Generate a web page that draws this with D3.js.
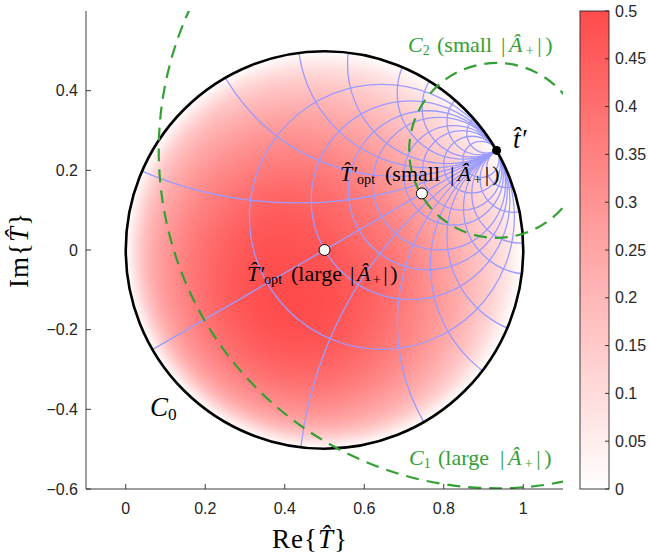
<!DOCTYPE html>
<html><head><meta charset="utf-8">
<script src="https://cdn.jsdelivr.net/npm/d3@7"></script>
<style>body{margin:0;background:#fff}</style>
</head><body>
<svg id="chart" width="650" height="556" xmlns="http://www.w3.org/2000/svg"></svg>
<script>
// ---------- data ----------
// heat values sampled on polar rays from the centre of C0 (angle in degrees, radius as fraction of C0 radius)
const heatAngles = [0, 30, 60, 90, 120, 150, 180, 210, 240, 270, 300, 330];
const heatRadii  = [0, 0.3, 0.55, 0.75, 0.9, 1];
const heatValues = [
  [0.47, 0.39, 0.28, 0.18, 0.09, 0],
  [0.47, 0.37, 0.25, 0.15, 0.075, 0],
  [0.47, 0.38, 0.27, 0.17, 0.085, 0],
  [0.47, 0.40, 0.30, 0.20, 0.10, 0],
  [0.47, 0.43, 0.34, 0.24, 0.13, 0],
  [0.47, 0.46, 0.38, 0.28, 0.16, 0],
  [0.47, 0.48, 0.42, 0.32, 0.19, 0],
  [0.47, 0.495, 0.45, 0.35, 0.21, 0],
  [0.47, 0.50, 0.46, 0.36, 0.215, 0],
  [0.47, 0.49, 0.44, 0.34, 0.20, 0],
  [0.47, 0.46, 0.39, 0.29, 0.165, 0],
  [0.47, 0.43, 0.33, 0.23, 0.12, 0]
];
const colorTicks = [0, 0.05, 0.1, 0.15, 0.2, 0.25, 0.3, 0.35, 0.4, 0.45, 0.5];
const xTicks = [0, 0.2, 0.4, 0.6, 0.8, 1];
const yTicks = [-0.6, -0.4, -0.2, 0, 0.2, 0.4];
const xDomain = [-0.1, 1.1];
const yDomain = [-0.6, 0.6];
const c0Center = [0.5, 0];
const c0Radius = 0.5;
const tPrime = [0.933, 0.25];
const resistances = [0.5, 1, 1.5, 2, 3, 4, 6, 10];
const reactances = [0.5, 1, 1.5, 2, 3, 4, 6, 10, -0.5, -1, -1.5, -2, -3, -4, -6, -10];
const c1Radius = 0.85;
const c2Radius = 0.22;
const toptLarge = [0.5, 0];
const toptSmall = [0.745, 0.142];

// ---------- layout ----------
const svg = d3.select("#chart");
const L = 86, R = 563, T = 11, B = 489;
const x = d3.scaleLinear().domain(xDomain).range([L, R]);
const y = d3.scaleLinear().domain(yDomain).range([B, T]);
const unit = x(1) - x(0);
const color = d3.scaleLinear().domain([0, 0.5]).range(["#ffffff", "#ff4b4b"]).interpolate(d3.interpolateRgb);
const axisCol = "#262626";
const serif = "'Liberation Serif', 'DejaVu Serif', serif";
const sans = "'Liberation Sans', Arial, sans-serif";
const green = "#33a033";
const blue = "#9b9bff";
const tickFont = 16;

const defs = svg.append("defs");
defs.append("clipPath").attr("id", "clipC0").append("circle")
  .attr("cx", x(c0Center[0])).attr("cy", y(c0Center[1])).attr("r", c0Radius * unit);
defs.append("clipPath").attr("id", "clipAx").append("rect")
  .attr("x", L).attr("y", T).attr("width", R - L).attr("height", B - T);

// ---------- heatmap (smooth interpolation of the polar samples) ----------
function hermiteRadial(vals, r) {
  const k = heatRadii, n = k.length;
  let i = 0;
  while (i < n - 2 && r > k[i + 1]) i++;
  const h = k[i + 1] - k[i], t = Math.max(0, Math.min(1, (r - k[i]) / h));
  const slope = j => {
    if (j === 0) return (vals[1] - vals[0]) / (k[1] - k[0]);
    if (j === n - 1) return (vals[n - 1] - vals[n - 2]) / (k[n - 1] - k[n - 2]);
    return 0.5 * ((vals[j + 1] - vals[j]) / (k[j + 1] - k[j]) + (vals[j] - vals[j - 1]) / (k[j] - k[j - 1]));
  };
  const m0 = slope(i) * h, m1 = slope(i + 1) * h;
  const t2 = t * t, t3 = t2 * t;
  return (2 * t3 - 3 * t2 + 1) * vals[i] + (t3 - 2 * t2 + t) * m0 + (-2 * t3 + 3 * t2) * vals[i + 1] + (t3 - t2) * m1;
}
function cr(p0, p1, p2, p3, t) {
  return p1 + 0.5 * t * (p2 - p0 + t * (2 * p0 - 5 * p1 + 4 * p2 - p3 + t * (3 * (p1 - p2) + p3 - p0)));
}
function sample(xv, yv) {
  const dx = (xv - c0Center[0]) / c0Radius, dy = (yv - c0Center[1]) / c0Radius;
  const r = Math.min(1, Math.hypot(dx, dy));
  let a = Math.atan2(dy, dx) * 180 / Math.PI; if (a < 0) a += 360;
  const n = heatAngles.length, step = 360 / n;
  const fa = a / step, i = Math.floor(fa) % n, t = fa - Math.floor(fa);
  const row = j => hermiteRadial(heatValues[(j + n) % n], r);
  return cr(row(i - 1), row(i), row(i + 1), row(i + 2), t);
}
const W = R - L, H = B - T;
const cv = document.createElement("canvas");
cv.width = W; cv.height = H;
const ctx = cv.getContext("2d");
const img = ctx.createImageData(W, H);
for (let py = 0; py < H; py++) {
  for (let px = 0; px < W; px++) {
    const xv = x.invert(L + px + 0.5), yv = y.invert(T + py + 0.5);
    const dx = xv - c0Center[0], dy = yv - c0Center[1];
    const k = (py * W + px) * 4;
    if (dx * dx + dy * dy <= (c0Radius + 0.01) ** 2) {
      let v = Math.max(0, Math.min(0.5, sample(xv, yv)));
      const c = d3.rgb(color(v));
      img.data[k] = c.r; img.data[k + 1] = c.g; img.data[k + 2] = c.b; img.data[k + 3] = 255;
    }
  }
}
ctx.putImageData(img, 0, 0);
svg.append("image").attr("x", L).attr("y", T).attr("width", W).attr("height", H)
  .attr("href", cv.toDataURL()).attr("clip-path", "url(#clipC0)");

// ---------- Smith-type grid ----------
const theta = Math.atan2(tPrime[1] - c0Center[1], tPrime[0] - c0Center[0]);
const ct = Math.cos(theta), st = Math.sin(theta);
function mapG(gr, gi) {
  return [c0Center[0] + c0Radius * (gr * ct - gi * st), c0Center[1] + c0Radius * (gr * st + gi * ct)];
}
const grid = svg.append("g").attr("clip-path", "url(#clipC0)")
  .attr("fill", "none").attr("stroke", blue).attr("stroke-width", 1.3);
resistances.forEach(r => {
  const c = mapG(r / (1 + r), 0);
  grid.append("circle").attr("cx", x(c[0])).attr("cy", y(c[1])).attr("r", c0Radius / (1 + r) * unit);
});
reactances.forEach(xr => {
  const c = mapG(1, 1 / xr);
  grid.append("circle").attr("cx", x(c[0])).attr("cy", y(c[1])).attr("r", c0Radius / Math.abs(xr) * unit);
});
{
  const a = mapG(1, 0), b = mapG(-1, 0);
  grid.append("line").attr("x1", x(a[0])).attr("y1", y(a[1])).attr("x2", x(b[0])).attr("y2", y(b[1]));
}

// ---------- C0 ----------
svg.append("circle").attr("cx", x(c0Center[0])).attr("cy", y(c0Center[1])).attr("r", c0Radius * unit)
  .attr("fill", "none").attr("stroke", "#000").attr("stroke-width", 2.6);

// ---------- C1, C2 ----------
const gc = svg.append("g").attr("clip-path", "url(#clipAx)");
[c1Radius, c2Radius].forEach(rr => {
  gc.append("circle").attr("cx", x(tPrime[0])).attr("cy", y(tPrime[1])).attr("r", rr * unit)
    .attr("fill", "none").attr("stroke", green).attr("stroke-width", 2.2).attr("stroke-dasharray", "13,8");
});

// ---------- markers ----------
[toptLarge, toptSmall].forEach(p => {
  svg.append("circle").attr("cx", x(p[0])).attr("cy", y(p[1])).attr("r", 5.5)
    .attr("fill", "#fff").attr("stroke", "#000").attr("stroke-width", 1);
});
svg.append("circle").attr("cx", x(tPrime[0])).attr("cy", y(tPrime[1])).attr("r", 4.5).attr("fill", "#000");

// ---------- axes ----------
const ax = svg.append("g").attr("stroke", axisCol).attr("stroke-width", 0.9);
ax.append("line").attr("x1", L).attr("x2", L).attr("y1", T).attr("y2", B);
ax.append("line").attr("x1", L).attr("x2", R).attr("y1", B).attr("y2", B);
xTicks.forEach(t => ax.append("line").attr("x1", x(t)).attr("x2", x(t)).attr("y1", B).attr("y2", B - 5));
yTicks.forEach(t => ax.append("line").attr("x1", L).attr("x2", L + 5).attr("y1", y(t)).attr("y2", y(t)));
const fmt = v => (v < 0 ? "\u2212" : "") + String(+Math.abs(v).toFixed(2));
svg.append("g").selectAll("text").data(xTicks).join("text")
  .attr("x", d => x(d)).attr("y", 514).attr("text-anchor", "middle")
  .attr("font-family", sans).attr("font-size", tickFont).attr("fill", axisCol).text(fmt);
svg.append("g").selectAll("text").data(yTicks).join("text")
  .attr("x", 78).attr("y", d => y(d) + 5.5).attr("text-anchor", "end")
  .attr("font-family", sans).attr("font-size", tickFont).attr("fill", axisCol).text(fmt);

// ---------- colorbar ----------
const cbL = 580, cbR = 609;
const cy = d3.scaleLinear().domain([0, 0.5]).range([B, T]);
const grad = defs.append("linearGradient").attr("id", "cbg").attr("x1", 0).attr("x2", 0).attr("y1", 1).attr("y2", 0);
[0, 0.25, 0.5].forEach(v => grad.append("stop").attr("offset", v / 0.5).attr("stop-color", color(v)));
svg.append("rect").attr("x", cbL).attr("y", T).attr("width", cbR - cbL).attr("height", B - T)
  .attr("fill", "url(#cbg)").attr("stroke", axisCol).attr("stroke-width", 0.9);
colorTicks.forEach(t => {
  svg.append("line").attr("x1", cbR).attr("x2", cbR - 4).attr("y1", cy(t)).attr("y2", cy(t))
    .attr("stroke", axisCol).attr("stroke-width", 0.9);
});
svg.append("g").selectAll("text").data(colorTicks).join("text")
  .attr("x", 615).attr("y", d => cy(d) + 5.5).attr("font-family", sans).attr("font-size", tickFont)
  .attr("fill", axisCol).text(fmt);

// ---------- labels (each label is a few pieces placed side by side) ----------
const hat = "\u0302";
function piece(g, xp, size, parts, spacing) {
  const t = g.append("text").attr("x", xp).attr("font-size", size);
  if (spacing) t.attr("letter-spacing", spacing);
  parts.forEach(p => {
    const s = t.append("tspan").text(p.t);
    if (p.i) s.attr("font-style", "italic");
    if (p.sub) s.attr("font-size", size * 0.64).attr("baseline-shift", "-22%");
  });
}
function label(yp, fill, pieces) {
  const g = svg.append("g").attr("font-family", serif).attr("fill", fill).attr("transform", `translate(0,${yp})`);
  pieces.forEach(p => piece(g, p.x, p.size, p.parts, p.sp));
  return g;
}
const mathAbs = [{t: "|"}, {t: "A" + hat, i: true}, {t: "+", sub: true}, {t: "|)"}];
label(148, "#000", [{x: 513, size: 27, parts: [{t: "t" + hat + "\u2032", i: true}]}]);
label(181, "#000", [
  {x: 340, size: 22, parts: [{t: "T" + hat + "\u2032", i: true}, {t: "opt", sub: true}]},
  {x: 385, size: 22, parts: [{t: "(small"}]},
  {x: 450, size: 22, parts: mathAbs, sp: 3}
]);
label(281, "#000", [
  {x: 247, size: 22, parts: [{t: "T" + hat + "\u2032", i: true}, {t: "opt", sub: true}]},
  {x: 291, size: 22, parts: [{t: "(large"}]},
  {x: 350, size: 22, parts: mathAbs, sp: 2.5}
]);
label(416, "#000", [{x: 150, size: 27, parts: [{t: "C", i: true}, {t: "0", sub: true}]}]);
label(52, green, [
  {x: 408, size: 22, parts: [{t: "C", i: true}, {t: "2", sub: true}]},
  {x: 437, size: 22, parts: [{t: "(small"}]},
  {x: 501, size: 22, parts: mathAbs, sp: 3.5}
]);
label(465, green, [
  {x: 409, size: 22, parts: [{t: "C", i: true}, {t: "1", sub: true}]},
  {x: 438, size: 22, parts: [{t: "(large"}]},
  {x: 500, size: 22, parts: mathAbs, sp: 3.5}
]);
svg.append("text").attr("x", 310).attr("y", 548).attr("text-anchor", "middle")
  .attr("font-family", serif).attr("font-size", 27).attr("letter-spacing", 1)
  .call(t => { t.append("tspan").text("Re{"); t.append("tspan").attr("font-style", "italic").text("T" + hat); t.append("tspan").text("}"); });
svg.append("text").attr("text-anchor", "middle").attr("transform", "translate(28,250) rotate(-90)")
  .attr("font-family", serif).attr("font-size", 27).attr("letter-spacing", 1)
  .call(t => { t.append("tspan").text("Im{"); t.append("tspan").attr("font-style", "italic").text("T" + hat); t.append("tspan").text("}"); });
</script>
</body></html>
